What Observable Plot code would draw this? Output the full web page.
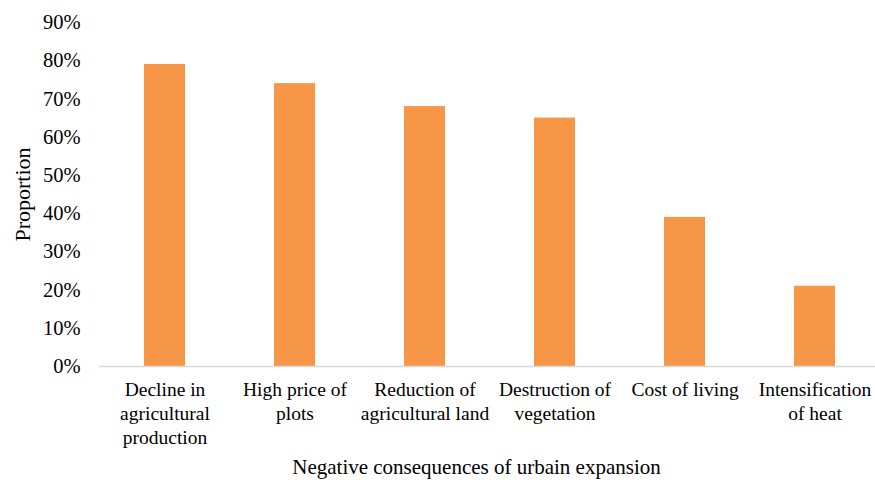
<!DOCTYPE html>
<html>
<head>
<meta charset="utf-8">
<script src="https://cdn.jsdelivr.net/npm/d3@7"></script>
<script src="https://cdn.jsdelivr.net/npm/@observablehq/plot@0.6"></script>
<style>
  html, body { margin: 0; padding: 0; background: #fff; }
</style>
</head>
<body>
<div id="chart"></div>
<script>
const categories = [
  "Decline in agricultural production",
  "High price of plots",
  "Reduction of agricultural land",
  "Destruction of vegetation",
  "Cost of living",
  "Intensification of heat"
];
const tickLabels = [
  "Decline in\nagricultural\nproduction",
  "High price of\nplots",
  "Reduction of\nagricultural land",
  "Destruction of\nvegetation",
  "Cost of living",
  "Intensification\nof heat"
];
const values = [0.79, 0.74, 0.68, 0.65, 0.39, 0.21];
const yTicks = [0, 0.1, 0.2, 0.3, 0.4, 0.5, 0.6, 0.7, 0.8, 0.9];
const xTitle = "Negative consequences of urbain expansion";
const yTitle = "Proportion";

const data = categories.map((c, i) => ({category: c, value: values[i]}));
const labelOf = new Map(categories.map((c, i) => [c, tickLabels[i]]));

const chart = Plot.plot({
  width: 875,
  height: 480,
  marginLeft: 99,
  marginRight: 0,
  marginTop: 22,
  marginBottom: 114,
  style: {fontFamily: "'Liberation Serif', 'Times New Roman', serif", fontSize: "20px", color: "#000", background: "#fff"},
  x: {domain: categories, range: [99, 880], paddingInner: 0.685, paddingOuter: 0.3425, align: 0.5},
  y: {domain: [0, 0.9]},
  marks: [
    Plot.barY(data, {x: "category", y: "value", fill: "#F79646"}),
    Plot.ruleY([0], {stroke: "#d9d9d9", strokeWidth: 1.5}),
    Plot.axisY({
      ticks: yTicks,
      tickFormat: d => Math.round(d * 100) + "%",
      tickSize: 0,
      tickPadding: 19,
      fontSize: 20.5,
      label: null
    }),
    Plot.axisY({
      ticks: [],
      tickSize: 0,
      fontSize: 22,
      label: yTitle,
      labelAnchor: "center",
      labelArrow: false,
      labelOffset: 85
    }),
    Plot.axisX({
      tickSize: 0,
      tickPadding: 13,
      tickFormat: d => labelOf.get(d),
      lineHeight: 1.22,
      fontSize: 19.5,
      label: null
    }),
    Plot.text([xTitle], {
      text: d => d,
      frameAnchor: "bottom",
      dx: -11,
      dy: 101,
      fontSize: 21,
      lineAnchor: "middle"
    })
  ]
});
document.getElementById("chart").appendChild(chart);
</script>
</body>
</html>
